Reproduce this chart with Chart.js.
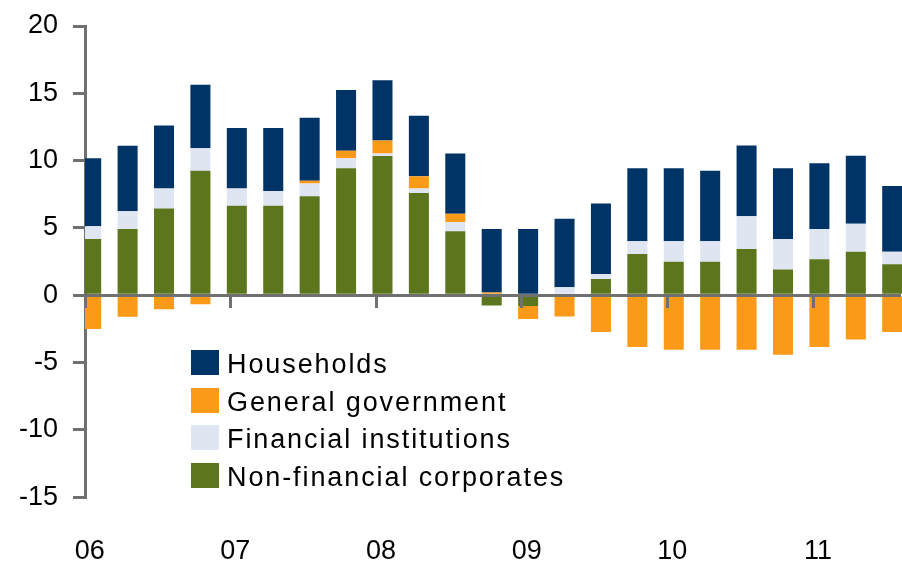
<!DOCTYPE html>
<html>
<head>
<meta charset="utf-8">
<script src="https://cdn.jsdelivr.net/npm/chart.js@4.4.1/dist/chart.umd.min.js"></script>
<style>
  body { margin: 0; background: #fff; }
  #wrap { position: relative; width: 902px; height: 562px; }
  #legend {
    position: absolute; left: 191px; top: 344px;
    font-family: "Liberation Sans", Arial, sans-serif; font-size: 27px;
    letter-spacing: 1.9px; color: #000;
  }
  #legend .row { display: flex; align-items: center; height: 37.5px; }
  #legend .box { width: 28px; height: 25px; margin-right: 8px; }
  #legend .txt { position: relative; top: 2px; white-space: nowrap; }
</style>
</head>
<body>
<div id="wrap">
  <canvas id="chart" width="902" height="562"></canvas>
  <div id="legend"></div>
</div>
<script>
// quarterly, 06Q1 .. 11Q3
const quarters = ["06Q1","06Q2","06Q3","06Q4","07Q1","07Q2","07Q3","07Q4",
  "08Q1","08Q2","08Q3","08Q4","09Q1","09Q2","09Q3","09Q4",
  "10Q1","10Q2","10Q3","10Q4","11Q1","11Q2","11Q3"];
const yearLabels = ["06", "07", "08", "09", "10", "11"];

const nonFinancial = [4.19, 4.93, 6.45, 9.25, 6.65, 6.65, 7.36, 9.43, 10.34, 7.59, 4.75, -0.75,
  -0.8, 0, 1.21, 3.07, 2.5, 2.5, 3.44, 1.92, 2.67, 3.24, 2.3];
const financial = [0.94, 1.31, 1.49, 1.67, 1.29, 1.09, 0.95, 0.74, 0.2, 0.35, 0.7, 0,
  0, 0.6, 0.37, 0.94, 1.51, 1.51, 2.43, 2.27, 2.26, 2.07, 0.94];
const government = [-2.51, -1.6, -1.03, -0.66, 0, 0, 0.2, 0.57, 0.95, 0.91, 0.6, 0.2,
  -0.95, -1.57, -2.72, -3.84, -4.04, -4.04, -4.04, -4.41, -3.84, -3.29, -2.72];
const households = [5.04, 4.87, 4.67, 4.71, 4.49, 4.69, 4.67, 4.5, 4.49, 4.48, 4.49, 4.73,
  4.93, 5.08, 5.24, 5.42, 5.42, 5.24, 5.25, 5.24, 4.87, 5.06, 4.87];

const axisGrey = "#707070";
const barShift = 0.17;   // bars sit a little after the quarter start
const labelShift = 0.13;
const xMax = 22.37;

function toPoints(values) {
  return values.map((v, i) => ({ x: i + barShift, y: v }));
}

function makeSet(label, values, color) {
  return {
    label: label,
    data: toPoints(values),
    backgroundColor: color,
    borderWidth: 0,
    categoryPercentage: 1,
    barPercentage: 0.55,
    clip: { left: 0, top: 5, right: 6, bottom: 5 }
  };
}

const datasets = [
  makeSet("Non-financial corporates", nonFinancial, "#5c761d"),
  makeSet("Financial institutions", financial, "#dfe6f2"),
  makeSet("General government", government, "#fa9a18"),
  makeSet("Households", households, "#003366")
];

new Chart(document.getElementById("chart"), {
  type: "bar",
  data: { datasets: datasets },
  options: {
    responsive: false,
    devicePixelRatio: 1,
    animation: false,
    layout: { padding: { top: 26, right: 2.5, left: 0, bottom: 0 } },
    plugins: { legend: { display: false }, tooltip: { enabled: false } },
    scales: {
      x: {
        type: "linear",
        stacked: true,
        offset: false,
        min: 0,
        max: xMax,
        position: "bottom",
        border: { display: false },
        grid: { display: false, drawTicks: false, offset: false },
        afterBuildTicks: s => { s.ticks = yearLabels.map((l, k) => ({ value: 4 * k + labelShift })); },
        afterFit: s => { s.height = 64.7; },
        ticks: {
          autoSkip: false,
          maxRotation: 0,
          padding: 38,
          color: "#000",
          font: { family: "Liberation Sans", size: 27 },
          callback: (v, i) => yearLabels[i]
        }
      },
      x2: {
        type: "linear",
        offset: false,
        min: 0,
        max: xMax,
        position: { y: 0 },
        border: { color: axisGrey, width: 3, z: 2 },
        grid: { drawOnChartArea: false, offset: false, color: axisGrey, lineWidth: 3, tickLength: 11, z: 2 },
        afterBuildTicks: s => { s.ticks = yearLabels.map((l, k) => ({ value: 4 * k })); },
        ticks: { display: false }
      },
      y: {
        stacked: true,
        min: -15,
        max: 20,
        border: { color: axisGrey, width: 3 },
        grid: { drawOnChartArea: false, color: axisGrey, lineWidth: 3, tickLength: 12 },
        afterFit: s => { s.width = 85; },
        ticks: {
          stepSize: 5,
          padding: 15,
          color: "#000",
          font: { family: "Liberation Sans", size: 27, lineHeight: 0.8 }
        }
      }
    }
  }
});

// legend, top entry is the last stacked series
const legend = document.getElementById("legend");
datasets.slice().reverse().forEach(ds => {
  const row = document.createElement("div");
  row.className = "row";
  row.innerHTML = `<span class="box" style="background:${ds.backgroundColor}"></span><span class="txt">${ds.label}</span>`;
  legend.appendChild(row);
});
</script>
</body>
</html>
